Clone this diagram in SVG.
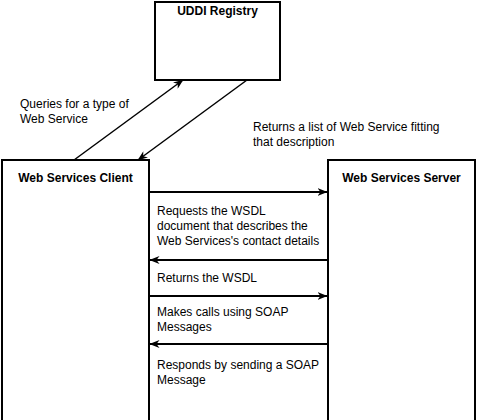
<svg xmlns="http://www.w3.org/2000/svg" width="479" height="420" viewBox="0 0 479 420">
<style>
.box{fill:#fff;stroke:#000;stroke-width:2}
.t{font-family:"Liberation Sans",Arial,sans-serif;font-size:12px;fill:#000}
.b{font-weight:bold}
.c{stroke:#000;stroke-width:2;fill:none}
.d{stroke-width:1.5}
</style>
<defs>
<marker id="ah" viewBox="0 0 10 8" refX="9.5" refY="4" markerWidth="10" markerHeight="8" markerUnits="userSpaceOnUse" orient="auto">
<path d="M0,0 L10,4 L0,8 L3,4 Z" fill="#000"/>
</marker>
</defs>
<rect width="479" height="420" fill="#fff"/>
<g id="uddi">
<rect class="box" x="155" y="2" width="125" height="78"/>
<text class="t b" x="217.5" y="15" text-anchor="middle">UDDI Registry</text>
</g>
<g id="client">
<rect class="box" x="2" y="160" width="147" height="270"/>
<text class="t b" x="75.5" y="182" text-anchor="middle">Web Services Client</text>
</g>
<g id="server">
<rect class="box" x="328" y="160" width="147" height="270"/>
<text class="t b" x="401.5" y="182" text-anchor="middle">Web Services Server</text>
</g>
<g id="connectors">
<line class="c d" x1="74" y1="160" x2="183" y2="80" marker-end="url(#ah)"/>
<line class="c d" x1="247" y1="80" x2="138" y2="160" marker-end="url(#ah)"/>
<line class="c" x1="150" y1="192" x2="327" y2="192" marker-end="url(#ah)"/>
<line class="c" x1="328" y1="260" x2="150" y2="260" marker-end="url(#ah)"/>
<line class="c" x1="150" y1="296" x2="327" y2="296" marker-end="url(#ah)"/>
<line class="c" x1="328" y1="344" x2="150" y2="344" marker-end="url(#ah)"/>
</g>
<g id="labels">
<text class="t" x="20" y="108">Queries for a type of</text>
<text class="t" x="20" y="123">Web Service</text>
<text class="t" x="253" y="131">Returns a list of Web Service fitting</text>
<text class="t" x="253" y="146">that description</text>
<text class="t" x="157" y="215">Requests the WSDL</text>
<text class="t" x="157" y="230">document that describes the</text>
<text class="t" x="157" y="245">Web Services's contact details</text>
<text class="t" x="157" y="282">Returns the WSDL</text>
<text class="t" x="157" y="316">Makes calls using SOAP</text>
<text class="t" x="157" y="331">Messages</text>
<text class="t" x="157" y="369">Responds by sending a SOAP</text>
<text class="t" x="157" y="384">Message</text>
</g>
</svg>
